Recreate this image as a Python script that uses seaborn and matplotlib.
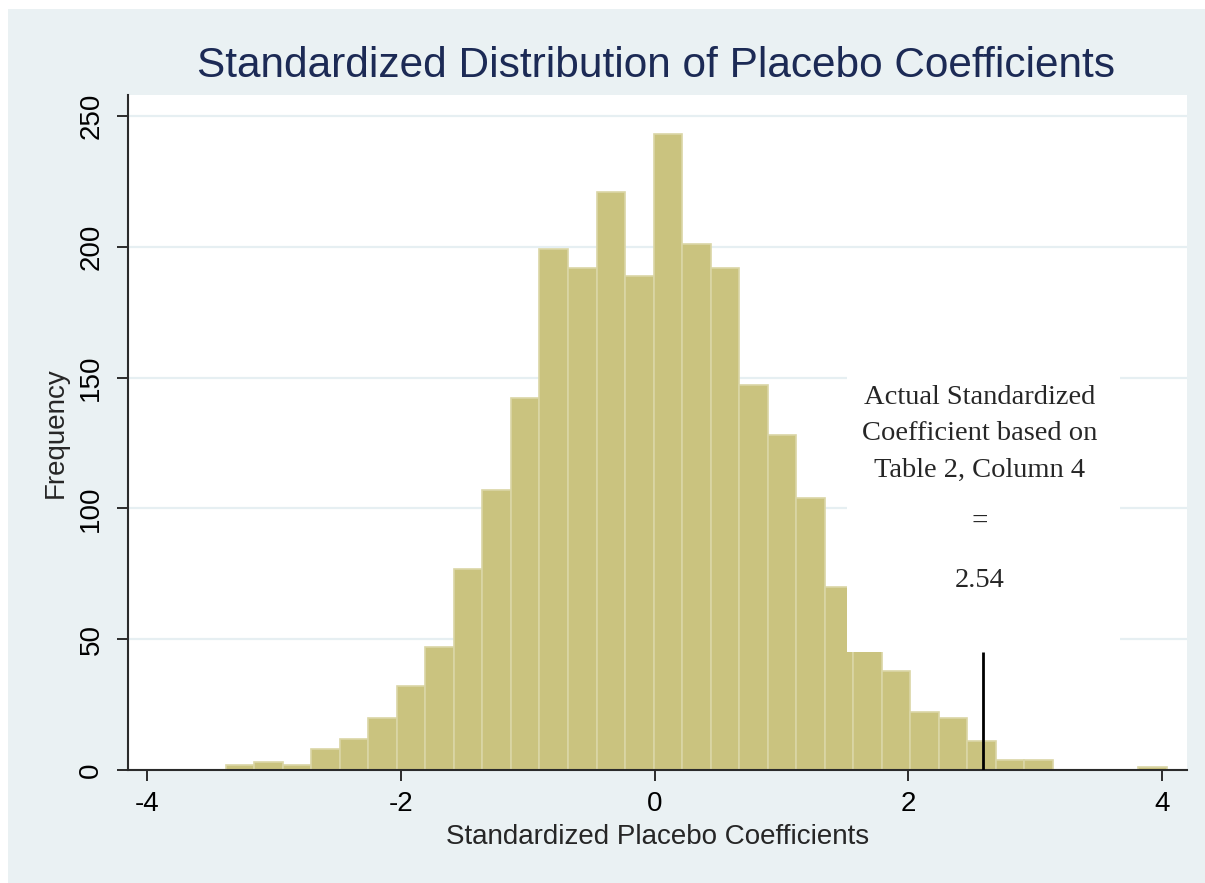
import numpy as np
import pandas as pd
import seaborn as sns
import matplotlib.pyplot as plt
from matplotlib.patches import Rectangle

# histogram: 33 equal bins
bin_start = -3.377
bin_width = 0.2246
counts = [2, 3, 2, 8, 12, 20, 32, 47, 77, 107, 142, 199, 192, 221, 189, 243,
          201, 192, 147, 128, 104, 70, 46, 38, 22, 20, 11, 4, 4, 0, 0, 0, 1]
x_ticks = [-4, -2, 0, 2, 4]
y_ticks = [0, 50, 100, 150, 200, 250]

actual_coef_pos = 2.59     # where the vertical marker sits
actual_coef_top = 45
actual_label = "2.54"
note_lines = "Actual Standardized\nCoefficient based on\nTable 2, Column 4"

bin_edges = [float(e) for e in bin_start + bin_width * np.arange(len(counts) + 1)]
centers = [(a + b) / 2 for a, b in zip(bin_edges[:-1], bin_edges[1:])]
df = pd.DataFrame({'coef': centers, 'n': counts})

sns.set_style('white')
plt.rcParams['font.family'] = ['Liberation Sans', 'DejaVu Sans']

bg = '#EAF1F3'
fig = plt.figure(figsize=(12.05, 8.83), dpi=100, facecolor='white')
fig.add_artist(Rectangle((8 / 1205, 0), 1, 1 - 9 / 883, transform=fig.transFigure,
                         facecolor=bg, edgecolor='none', zorder=-10))
ax = fig.add_axes([0.1062, 0.1280, 0.8789, 0.7644])
ax.set_facecolor('white')

sns.histplot(data=df, x='coef', weights='n', bins=bin_edges, ax=ax,
             color='#CAC37F', alpha=1, edgecolor='#DAD6A6', linewidth=1.2)

ax.set_xlim(-4.149, 4.196)
ax.set_ylim(0, 258)
ax.set_xticks(x_ticks)
ax.set_yticks(y_ticks)
ax.set_xticklabels([str(t) for t in x_ticks])
ax.set_yticklabels([str(t) for t in y_ticks], rotation=90, va='center')
ax.grid(axis='y', color='#E6EFF2', linewidth=1.6)
ax.set_axisbelow(True)

for s in ['top', 'right']:
    ax.spines[s].set_visible(False)
for s in ['left', 'bottom']:
    ax.spines[s].set_color('#2b2b2b')
    ax.spines[s].set_linewidth(1.5)
ax.tick_params(axis='both', direction='out', length=8, width=1.4, color='#2b2b2b',
               labelsize=20, labelcolor='black', left=True, bottom=True)
ax.tick_params(axis='y', pad=9)
ax.tick_params(axis='x', pad=7)

ax.set_xlabel('Standardized Placebo Coefficients', fontsize=20, labelpad=5)
ax.set_ylabel('Frequency', fontsize=20)
ax.yaxis.set_label_coords(-0.056, 0.5)

fig.text(0.5444, 0.925, 'Standardized Distribution of Placebo Coefficients',
         fontsize=30.5, color='#1C2A55', ha='center', va='center')

# white note box drawn over the bars, then the marker line and text
ax.add_patch(Rectangle((1.52, 45.2), 2.15, 107, facecolor='white',
                       edgecolor='none', zorder=3))
ax.vlines(actual_coef_pos, 0, actual_coef_top, color='black', linewidth=2, zorder=4)
serif = ['Liberation Serif', 'DejaVu Serif']
ax.text(2.565, 128.5, note_lines, ha='center', va='center', fontsize=20.5,
        family=serif, linespacing=1.6, zorder=5)
ax.text(2.565, 94.8, '=', ha='center', va='center', fontsize=21, family=serif, zorder=5)
ax.text(2.565, 72.3, actual_label, ha='center', va='center', fontsize=20.5,
        family=serif, zorder=5)

fig.savefig('out.png', dpi=100, facecolor=fig.get_facecolor())
